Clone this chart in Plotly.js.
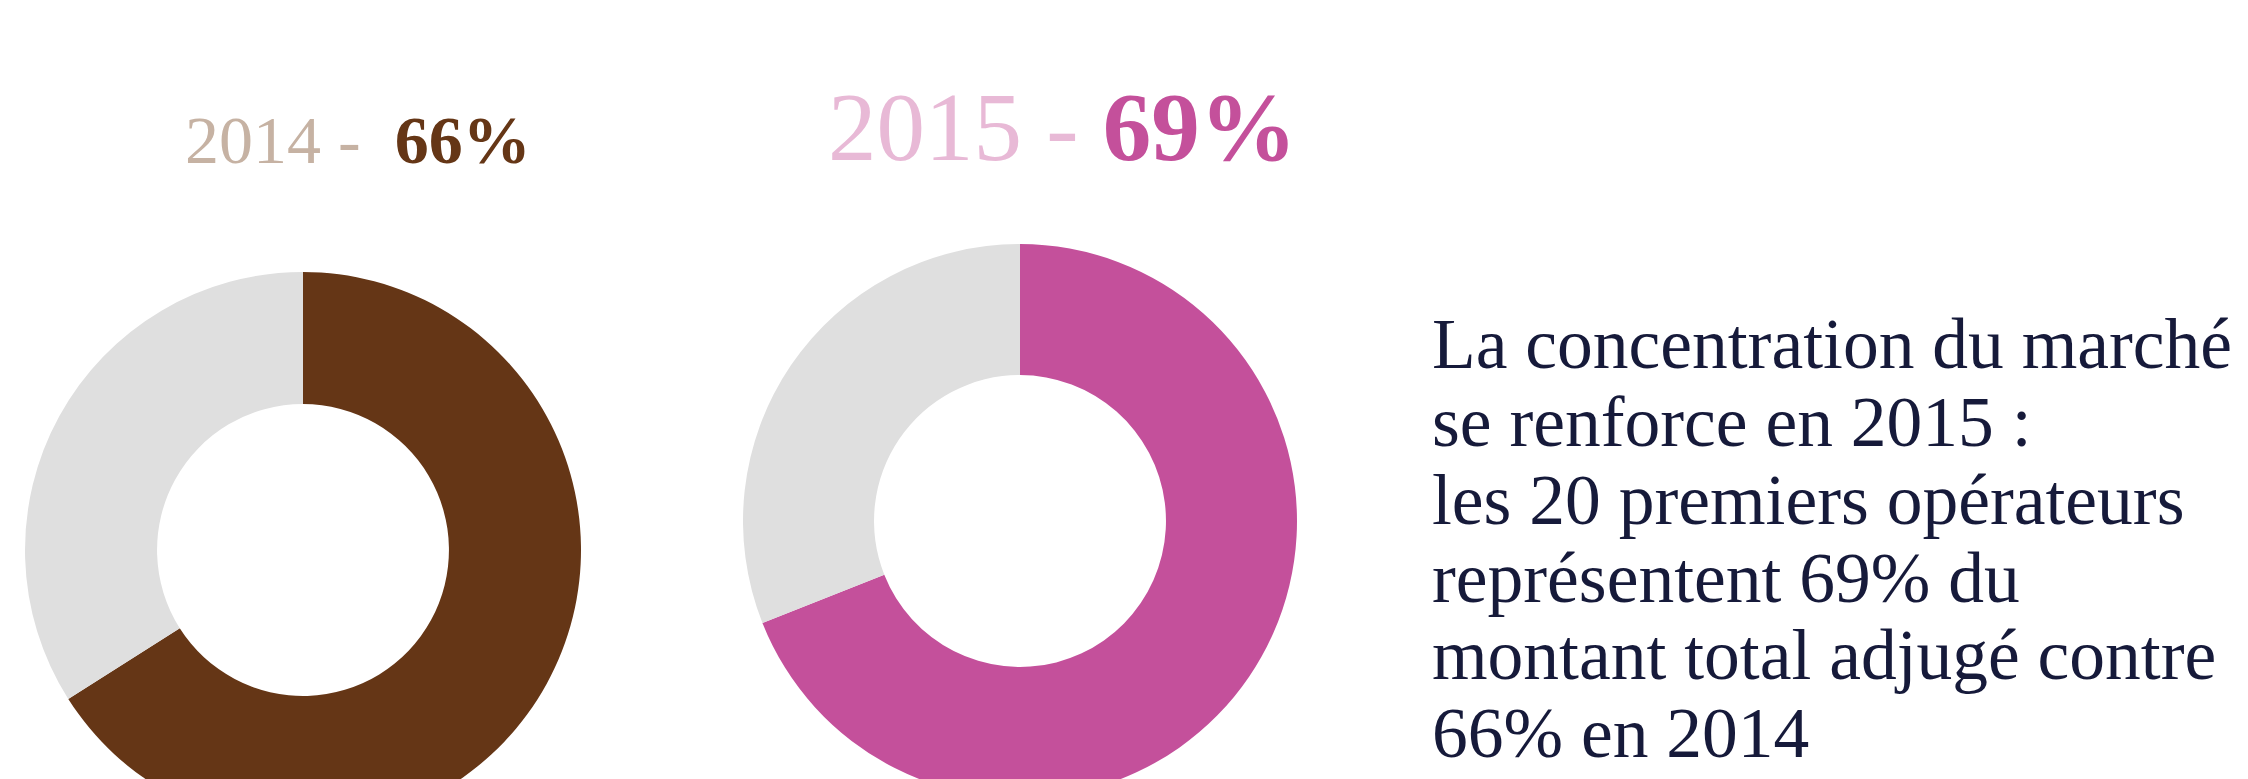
<!DOCTYPE html>
<html>
<head>
<meta charset="utf-8">
<script src="https://cdn.plot.ly/plotly-3.0.1.min.js"></script>
<style>
  html, body { margin: 0; padding: 0; background: #ffffff; overflow: hidden; width: 2248px; height: 779px; }
  #chart { width: 2248px; height: 840px; }
</style>
</head>
<body>
<div id="chart"></div>
<script>
// ---- Data ----
const segmentLabels = ["20 premiers opérateurs", "Autres"];
const values2014 = [66, 34];
const values2015 = [69, 31];
const yearLabels = ["2014", "2015"];
const shareLabels = ["66%", "69%"];
const colors2014 = ["#653616", "#DFDFDF"];
const colors2015 = ["#C4509B", "#DFDFDF"];
const noteLines = [
  "La concentration du marché",
  "se renforce en 2015 :",
  "les 20 premiers opérateurs",
  "représentent 69% du",
  "montant total adjugé contre",
  "66% en 2014"
];

// ---- Layout helpers ----
const W = 2248, H = 840;
const py = (px) => (H - px) / H;
const px = (x) => x / W;

const serif = "Liberation Serif, Times New Roman, serif";

const traces = [
  {
    type: "pie",
    labels: segmentLabels,
    values: values2014,
    marker: { colors: colors2014, line: { width: 0 } },
    hole: 0.525,
    sort: false,
    direction: "clockwise",
    rotation: 0,
    textinfo: "none",
    hoverinfo: "skip",
    domain: { x: [px(25), px(581)], y: [py(828), py(272)] }
  },
  {
    type: "pie",
    labels: segmentLabels,
    values: values2015,
    marker: { colors: colors2015, line: { width: 0 } },
    hole: 0.527,
    sort: false,
    direction: "clockwise",
    rotation: 0,
    textinfo: "none",
    hoverinfo: "skip",
    domain: { x: [px(743), px(1297)], y: [py(798), py(244)] }
  }
];

const annotations = [
  {
    xref: "paper", yref: "paper",
    x: px(183), y: py(140),
    xanchor: "left", yanchor: "middle",
    showarrow: false,
    text: "<span style='color:#C6B2A3'>" + yearLabels[0] + " -</span>\u00A0\u00A0<span style='color:#653616'><b>" + shareLabels[0] + "</b></span>",
    font: { family: serif, size: 68, color: "#C6B2A3" }
  },
  {
    xref: "paper", yref: "paper",
    x: px(826), y: py(127),
    xanchor: "left", yanchor: "middle",
    showarrow: false,
    text: "<span style='color:#E8B9D6'>" + yearLabels[1] + " -</span> <span style='color:#C4509B'><b>" + shareLabels[1] + "</b></span>",
    font: { family: serif, size: 97, color: "#E8B9D6" }
  }
];

const baseline0 = 368, lineStep = 77.8, noteSize = 71.5;
noteLines.forEach((line, i) => {
  annotations.push({
    xref: "paper", yref: "paper",
    x: px(1430), y: py(baseline0 + i * lineStep - 0.34 * noteSize),
    xanchor: "left", yanchor: "middle",
    showarrow: false,
    text: line,
    font: { family: serif, size: noteSize, color: "#161A3A" }
  });
});

const layout = {
  width: W, height: H,
  margin: { l: 0, r: 0, t: 0, b: 0 },
  paper_bgcolor: "#ffffff",
  plot_bgcolor: "#ffffff",
  showlegend: false,
  annotations: annotations
};

Plotly.newPlot("chart", traces, layout, { staticPlot: true, displayModeBar: false });
</script>
</body>
</html>
